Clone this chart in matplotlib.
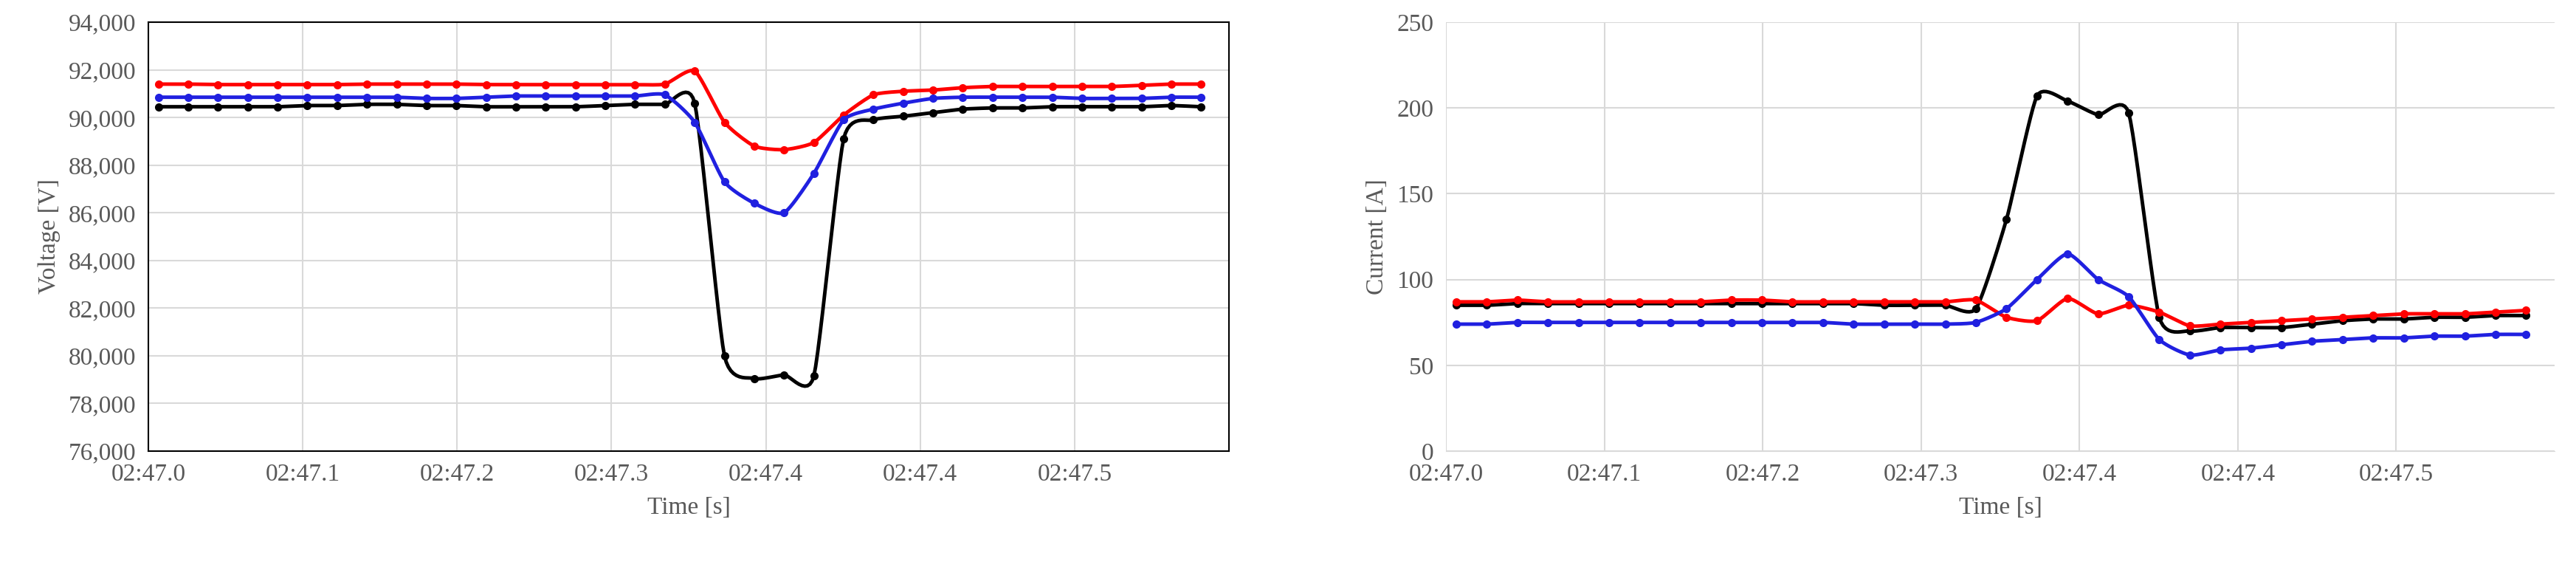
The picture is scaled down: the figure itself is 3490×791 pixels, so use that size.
import numpy as np
import matplotlib
matplotlib.use('Agg')
import matplotlib.pyplot as plt

plt.rcParams['font.family'] = ['Liberation Serif', 'DejaVu Serif']

# sample times [s after 02:47.0]
n_pts = 36
t = 0.0065 + 0.0193 * np.arange(n_pts)
tick_pos = [0.0, 0.1, 0.2, 0.3, 0.4, 0.5, 0.6]
tick_labels = ['02:47.0', '02:47.1', '02:47.2', '02:47.3', '02:47.4', '02:47.4', '02:47.5']

va = [90450, 90450, 90450, 90450, 90450, 90500, 90500, 90550, 90550, 90500, 90500, 90450,
      90450, 90450, 90450, 90500, 90550, 90550, 90600, 80000, 79050, 79200, 79150, 89100,
      89900, 90050, 90200, 90350, 90400, 90400, 90450, 90450, 90450, 90450, 90500, 90450]
vb = [91400, 91400, 91380, 91380, 91380, 91380, 91380, 91400, 91400, 91400, 91400, 91380,
      91380, 91380, 91380, 91380, 91380, 91400, 91950, 89800, 88800, 88650, 88950, 90100,
      90950, 91100, 91150, 91250, 91300, 91300, 91300, 91300, 91300, 91350, 91400, 91400]
vc = [90850, 90850, 90850, 90850, 90850, 90850, 90850, 90850, 90850, 90800, 90800, 90850,
      90900, 90900, 90900, 90900, 90900, 90950, 89800, 87300, 86400, 86000, 87650, 89900,
      90350, 90600, 90800, 90850, 90850, 90850, 90850, 90800, 90800, 90800, 90850, 90850]

ia = [85, 85, 86, 86, 86, 86, 86, 86, 86, 86, 86, 86, 86, 86, 85, 85, 85, 83, 135, 207,
      204, 196, 197, 78, 70, 72, 72, 72, 74, 76, 77, 77, 78, 78, 79, 79]
ib = [87, 87, 88, 87, 87, 87, 87, 87, 87, 88, 88, 87, 87, 87, 87, 87, 87, 88, 78, 76,
      89, 80, 85, 81, 73, 74, 75, 76, 77, 78, 79, 80, 80, 80, 81, 82]
ic = [74, 74, 75, 75, 75, 75, 75, 75, 75, 75, 75, 75, 75, 74, 74, 74, 74, 75, 83, 100,
      115, 100, 90, 65, 56, 59, 60, 62, 64, 65, 66, 66, 67, 67, 68, 68]


def smooth(x, y, k=12, tension=0.6):
    # Hermite curve through the samples, like Excel's smoothed lines
    x = np.asarray(x, float); y = np.asarray(y, float)
    px = np.concatenate([[2 * x[0] - x[1]], x, [2 * x[-1] - x[-2]]])
    py = np.concatenate([[2 * y[0] - y[1]], y, [2 * y[-1] - y[-2]]])
    s = np.linspace(0, 1, k, endpoint=False)[:, None]
    h00 = 2 * s ** 3 - 3 * s ** 2 + 1
    h10 = s ** 3 - 2 * s ** 2 + s
    h01 = -2 * s ** 3 + 3 * s ** 2
    h11 = s ** 3 - s ** 2
    out = []
    for p in (px, py):
        p0, p1, p2, p3 = p[:-3], p[1:-2], p[2:-1], p[3:]
        m1 = tension * (p2 - p0) / 2
        m2 = tension * (p3 - p1) / 2
        c = h00 * p1 + h10 * m1 + h01 * p2 + h11 * m2
        out.append(np.concatenate([c.T.ravel(), p[-2:-1]]))
    return out


fig = plt.figure(figsize=(34.91, 7.91), dpi=100)
ax1 = fig.add_axes([201 / 3491, 1 - 611 / 791, 1464 / 3491, 581 / 791])
ax2 = fig.add_axes([1959 / 3491, 1 - 611 / 791, 1502 / 3491, 581 / 791])

colors = ['black', 'red', '#2020e0']
for ax, series, names, ylab, ylim, yticks in [
        (ax1, [va, vb, vc], ['Va', 'Vb', 'Vc'], 'Voltage [V]', (76000, 94000), np.arange(76000, 94001, 2000)),
        (ax2, [ia, ib, ic], ['Ia', 'Ib', 'Ic'], 'Current [A]', (0, 250), np.arange(0, 251, 50))]:
    for y, c, name in zip(series, colors, names):
        sx, sy = smooth(t, y)
        ax.plot(sx, sy, color=c, lw=3.5)
        ax.plot(t, y, 'o', color=c, ms=7)
        ax.plot([], [], '-o', color=c, lw=3.5, ms=7, label=name)
    ax.set_xlim(0, 0.7)
    ax.set_ylim(*ylim)
    ax.set_yticks(yticks)
    ax.set_xticks(tick_pos)
    ax.set_xticklabels(tick_labels)
    ax.grid(True, color='#d9d9d9', lw=1.5)
    ax.tick_params(length=0, labelsize=24, labelcolor='#595959', pad=12)
    ax.set_xlabel('Time [s]', fontsize=24, color='#595959', labelpad=10)
    ax.set_ylabel(ylab, fontsize=24, color='#595959', labelpad=8)
    ax.legend(loc='upper center', bbox_to_anchor=(0.5, -0.27), ncol=3, frameon=False,
              fontsize=24, handlelength=1.6, columnspacing=0.6, handletextpad=0.2)

ax1.yaxis.set_major_formatter(matplotlib.ticker.StrMethodFormatter('{x:,.0f}'))
for s in ax1.spines.values():
    s.set_linewidth(1.5)
for name, s in ax2.spines.items():
    s.set_visible(name == 'bottom')
    s.set_color('#d9d9d9')

fig.savefig('out.png', dpi=100)
